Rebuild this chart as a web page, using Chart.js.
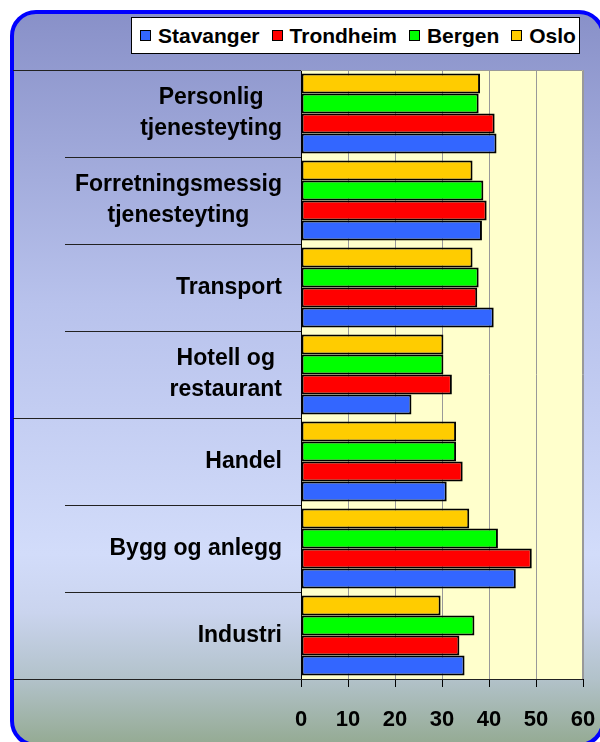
<!DOCTYPE html>
<html>
<head>
<meta charset="utf-8">
<script src="https://cdn.jsdelivr.net/npm/chart.js@4.4.1/dist/chart.umd.min.js"></script>
<style>
  html, body { margin: 0; padding: 0; background: #fff; overflow: hidden; }
  #wrap { position: relative; width: 600px; height: 742px; overflow: hidden; }
  #chart { display: block; }
  #legend {
    position: absolute; left: 131px; top: 17px; width: 449px; height: 37px;
    box-sizing: border-box; background: #fff; border: 1px solid #000;
    display: flex; align-items: center; padding-left: 8px;
    font-family: 'Liberation Sans', Arial, sans-serif; font-weight: bold; font-size: 21px; color: #000;
  }
  .legend-item { display: flex; align-items: center; margin-right: 12px; }
  .legend-swatch { width: 9px; height: 9px; border: 1px solid #000; margin-right: 7px; }
</style>
</head>
<body>
<div id="wrap">
  <canvas id="chart" width="600" height="742"></canvas>
  <div id="legend"></div>
</div>
<script>
// categories top to bottom
const categories = [
  ['Personlig', 'tjenesteyting'],
  ['Forretningsmessig', 'tjenesteyting'],
  ['Transport'],
  ['Hotell og', 'restaurant'],
  ['Handel'],
  ['Bygg og anlegg'],
  ['Industri'],
];

const stavanger = [41.6, 38.5, 41.0, 23.5, 31.0, 45.7, 34.8];
const trondheim = [41.2, 39.5, 37.5, 32.1, 34.4, 49.1, 33.7];
const bergen    = [37.8, 38.8, 37.8, 30.3, 33.0, 41.9, 36.9];
const oslo      = [38.1, 36.5, 36.5, 30.3, 33.0, 35.8, 29.7];

const xTicks = [0, 10, 20, 30, 40, 50, 60];

const SERIES = [
  { label: 'Stavanger', data: stavanger, color: '#3366FF' },
  { label: 'Trondheim', data: trondheim, color: '#FF0000' },
  { label: 'Bergen',    data: bergen,    color: '#00FF00' },
  { label: 'Oslo',      data: oslo,      color: '#FFCC00' },
];

const FONT = "'Liberation Sans', Arial, sans-serif";

// legend in series order
document.getElementById('legend').innerHTML = SERIES.map(s => `
  <div class="legend-item">
    <div class="legend-swatch" style="background:${s.color}"></div>
    <span>${s.label}</span>
  </div>`).join('');

// Oslo on top inside each group, Stavanger at the bottom
const datasets = SERIES.slice().reverse().map(s => ({
  label: s.label,
  data: s.data,
  backgroundColor: s.color,
  borderColor: '#000',
  borderWidth: 2,
  borderSkipped: false,
  categoryPercentage: 0.92,
  barPercentage: 1.0,
}));

const framePlugin = {
  id: 'frame',
  beforeDraw(chart) {
    const c = chart.ctx;
    const a = chart.chartArea;
    c.save();
    // rounded frame with gradient (right and bottom edges run off the page)
    const g = c.createLinearGradient(0, 10, 0, 745);
    g.addColorStop(0.00, '#8890C8');
    g.addColorStop(0.40, '#B8C2EC');
    g.addColorStop(0.74, '#D2DCFA');
    g.addColorStop(0.82, '#CAD4EE');
    g.addColorStop(0.91, '#B2C2CA');
    g.addColorStop(1.00, '#94AA92');
    c.beginPath();
    c.roundRect(12, 12, 591, 733, 24);
    c.fillStyle = g;
    c.fill();
    c.lineWidth = 4;
    c.strokeStyle = '#0000FF';
    c.stroke();
    // plot background
    c.fillStyle = '#FFFFCC';
    c.fillRect(a.left, a.top, a.right - a.left, a.bottom - a.top);
    c.restore();
  },
  afterDraw(chart) {
    const c = chart.ctx;
    const a = chart.chartArea;
    const y = chart.scales.y;
    c.save();
    // plot border
    c.strokeStyle = '#999';
    c.lineWidth = 1;
    c.beginPath();
    c.moveTo(a.left, a.top + 0.5);
    c.lineTo(a.right - 0.5, a.top + 0.5);
    c.lineTo(a.right - 0.5, a.bottom);
    c.stroke();
    // long separator lines
    const half = (y.getPixelForValue(1) - y.getPixelForValue(0)) / 2;
    const mid = y.getPixelForValue(3) + half;
    c.strokeStyle = '#222';
    c.beginPath();
    c.moveTo(13, Math.round(a.top) + 0.5); c.lineTo(a.left, Math.round(a.top) + 0.5);
    c.moveTo(13, Math.round(mid) + 0.5); c.lineTo(a.left, Math.round(mid) + 0.5);
    c.moveTo(13, Math.round(a.bottom) + 0.5); c.lineTo(a.right, Math.round(a.bottom) + 0.5);
    c.stroke();
    // category labels: block right aligned, lines centred
    c.font = `bold 23px ${FONT}`;
    c.fillStyle = '#000';
    c.textAlign = 'center';
    c.textBaseline = 'middle';
    const right = 282;
    categories.forEach((lines, i) => {
      const cy = y.getPixelForValue(i);
      const w = Math.max(...lines.map(l => c.measureText(l).width));
      const cx = right - w / 2;
      lines.forEach((l, j) => {
        c.fillText(l, cx, cy + (j - (lines.length - 1) / 2) * 31);
      });
    });
    c.restore();
  },
};

new Chart(document.getElementById('chart'), {
  type: 'bar',
  data: { labels: categories.map(l => l.join(' ')), datasets },
  plugins: [framePlugin],
  options: {
    indexAxis: 'y',
    responsive: false,
    animation: false,
    layout: { padding: { top: 70, right: 17, bottom: 0, left: 0 } },
    scales: {
      x: {
        min: 0, max: 60,
        afterBuildTicks: s => { s.ticks = xTicks.map(v => ({ value: v })); },
        afterFit: s => { s.height = 63; s.paddingLeft = 0; s.paddingRight = 0; },
        ticks: {
          color: '#000',
          font: { family: FONT, size: 22, weight: 'bold' },
          padding: 20,
          maxRotation: 0,
        },
        grid: { color: '#999', tickColor: '#000', tickLength: 8 },
        border: { color: '#000', width: 1 },
      },
      y: {
        afterFit: s => { s.width = 301; },
        ticks: { display: false },
        grid: {
          drawOnChartArea: false,
          tickLength: 236,
          color: '#222',
          offset: true,
        },
        border: { color: '#000', width: 1 },
      },
    },
    plugins: {
      legend: { display: false },
      tooltip: { enabled: false },
    },
  },
});
</script>
</body>
</html>
